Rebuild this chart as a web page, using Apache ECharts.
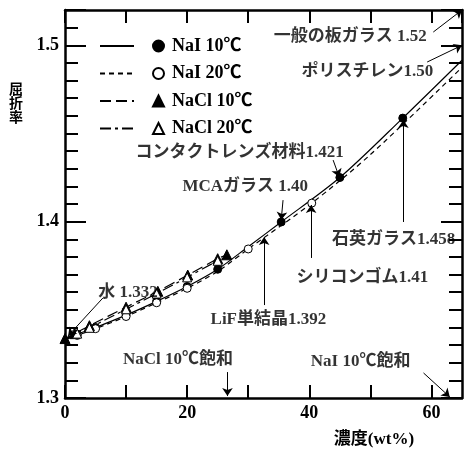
<!DOCTYPE html>
<html>
<head>
<meta charset="utf-8">
<script src="https://cdn.jsdelivr.net/npm/echarts@6.0.0/dist/echarts.min.js"></script>
<style>
  html, body { margin: 0; padding: 0; background: #fff; }
  #chart { width: 467px; height: 452px; }
</style>
</head>
<body>
<div id="chart"></div>
<script>
// 濃度(wt%) と屈折率
const naI10X = [0, 2, 5, 10, 15, 20, 25, 30, 35.4, 45, 55.3, 65]
const naI10Y = [1.3337, 1.3362, 1.3400, 1.3470, 1.3548, 1.3632, 1.3730, 1.3858, 1.3998, 1.4250, 1.4587, 1.4915]
const naI10Marks = [2, 5, 10, 15, 20, 25, 35.4, 45, 55.3]

const naI20X = [0, 2, 5, 10, 15, 20, 25, 30, 40.4, 50, 65]
const naI20Y = [1.3330, 1.3355, 1.3393, 1.3462, 1.3540, 1.3622, 1.3718, 1.3845, 1.4105, 1.4380, 1.4875]
const naI20Marks = [2, 5, 10, 15, 20, 30, 40.4]

const naCl10X = [0, 1.6, 4, 10, 15.2, 20.1, 25, 26.5]
const naCl10Y = [1.3337, 1.3365, 1.3410, 1.3515, 1.3605, 1.3697, 1.3790, 1.3812]
const naCl10Marks = [0, 1.6, 4, 10, 15.2, 20.1, 25, 26.5]

const naCl20X = [0, 2, 4, 10, 15, 20, 25, 26.4]
const naCl20Y = [1.3330, 1.3365, 1.3398, 1.3503, 1.3592, 1.3684, 1.3778, 1.3797]
const naCl20Marks = [2, 4, 10, 15, 20, 25]

const seriesNames = ['NaI 10℃', 'NaI 20℃', 'NaCl 10℃', 'NaCl 20℃']

// 注記 (文字と矢印)
const noteText = ['一般の板ガラス 1.52', 'ポリスチレン1.50', 'コンタクトレンズ材料1.421', 'MCAガラス 1.40',
  '石英ガラス1.458', 'シリコンゴム1.41', 'LiF単結晶1.392', '水 1.332', 'NaCl 10℃飽和', 'NaI 10℃飽和']
const noteX = [46.7, 49.5, 28.6, 29.5, 53.8, 48.7, 33.3, 10.3, 18.5, 48.4]
const noteY = [1.5047, 1.4848, 1.4389, 1.4196, 1.3896, 1.368, 1.3442, 1.3595, 1.3215, 1.3204]
const arrowFrom = [[60.3, 1.5075], [59.3, 1.4905], [43.9, 1.4349], [35.7, 1.4122], [55.4, 1.3998],
  [40.3, 1.3794], [32.6, 1.3527], [6.2, 1.3567], [26.6, 1.3147], [58.7, 1.3142]]
const arrowTo = [[65, 1.52], [65, 1.5], [44.9, 1.4253], [35.4, 1.4009], [55.4, 1.4576],
  [40.3, 1.4094], [32.6, 1.3913], [0.5, 1.3352], [26.6, 1.3011], [63, 1.3006]]

const FONT = '"Liberation Serif", "Noto Sans CJK JP", serif'
const BLACK = '#000'

const curve = (xs, ys) => xs.map((x, i) => [x, ys[i]])
const marks = (xs, ys, at) => at.map(x => [x, ys[xs.indexOf(x)]])

function lineSeries(name, data, type) {
  return {
    name: name + ' 線',
    type: 'line',
    data: data,
    smooth: 0.3,
    symbol: 'none',
    lineStyle: { color: BLACK, width: 1.2, type: type },
    itemStyle: { color: BLACK },
    z: 3
  }
}

function markSeries(name, data, symbol, size, fill) {
  return {
    name: name,
    type: 'scatter',
    data: data,
    symbol: symbol,
    symbolSize: size,
    itemStyle: { color: fill, borderColor: BLACK, borderWidth: 1, opacity: 1 },
    z: 4
  }
}

const axisLine = { show: true, lineStyle: { color: BLACK, width: 2.5 } }
const tickStyle = { color: BLACK, width: 2 }

const yLabel = v => (Math.round(v * 100) % 10 === 0 ? v.toFixed(1) : '')

const chart = echarts.init(document.getElementById('chart'))
chart.setOption({
  animation: false,
  backgroundColor: '#fff',
  grid: { left: 65, right: 5, top: 10, bottom: 54 },
  xAxis: [{
    type: 'value', min: 0, max: 65, interval: 10, position: 'bottom',
    axisLine: axisLine,
    axisTick: { inside: true, length: 13, lineStyle: tickStyle },
    axisLabel: {
      formatter: v => (v % 20 === 0 ? String(v) : ''), showMaxLabel: false,
      color: BLACK, fontFamily: FONT, fontWeight: 'bold', fontSize: 18, margin: 6
    },
    splitLine: { show: false }
  }, {
    type: 'value', min: 0, max: 65, interval: 10, position: 'top',
    axisLine: axisLine,
    axisTick: { inside: true, length: 13, lineStyle: tickStyle },
    axisLabel: { show: false },
    splitLine: { show: false }
  }],
  yAxis: [{
    type: 'value', min: 1.3, max: 1.52, interval: 0.01, position: 'left',
    axisLine: axisLine,
    axisTick: { inside: true, length: 13, lineStyle: tickStyle },
    axisLabel: { formatter: yLabel, color: BLACK, fontFamily: FONT, fontWeight: 'bold', fontSize: 18, margin: 6 },
    splitLine: { show: false }
  }, {
    type: 'value', min: 1.3, max: 1.52, interval: 0.1, position: 'left',
    axisLine: { show: false },
    axisTick: { inside: true, length: 21, lineStyle: tickStyle },
    axisLabel: { show: false },
    splitLine: { show: false }
  }, {
    type: 'value', min: 1.3, max: 1.52, interval: 0.01, position: 'right',
    axisLine: axisLine,
    axisTick: { inside: true, length: 13, lineStyle: tickStyle },
    axisLabel: { show: false },
    splitLine: { show: false }
  }, {
    type: 'value', min: 1.3, max: 1.52, interval: 0.1, position: 'right',
    axisLine: { show: false },
    axisTick: { inside: true, length: 21, lineStyle: tickStyle },
    axisLabel: { show: false },
    splitLine: { show: false }
  }],
  legend: [{
    data: seriesNames.map(n => n + ' 線'),
    orient: 'vertical', left: 94, top: 32,
    itemWidth: 34, itemHeight: 11, itemGap: 9.5,
    selectedMode: false,
    formatter: () => ' ',
    itemStyle: { color: 'rgba(0,0,0,0)', borderWidth: 0, opacity: 0 },
    textStyle: { fontSize: 18, lineHeight: 17 }
  }, {
    data: seriesNames,
    orient: 'vertical', left: 147, top: 32,
    itemWidth: 11, itemHeight: 11, itemGap: 9.5,
    selectedMode: false,
    textStyle: { color: BLACK, fontFamily: FONT, fontWeight: 'bold', fontSize: 18, lineHeight: 17, padding: [0, 0, 0, 3] }
  }],
  graphic: [{
    type: 'text', x: 16, y: 103,
    style: { text: '屈\n折\n率', fill: BLACK, font: 'bold 14px "Noto Sans CJK JP"', lineHeight: 14, align: 'center', verticalAlign: 'middle' }
  }, {
    type: 'text', x: 374, y: 440,
    style: { text: '濃度(wt%)', fill: BLACK, font: 'bold 17px "Liberation Serif", "Noto Sans CJK JP"', align: 'center', verticalAlign: 'middle' }
  }],
  series: [
    lineSeries(seriesNames[0], curve(naI10X, naI10Y), 'solid'),
    lineSeries(seriesNames[1], curve(naI20X, naI20Y), [5, 4]),
    lineSeries(seriesNames[2], curve(naCl10X, naCl10Y), [11, 5]),
    lineSeries(seriesNames[3], curve(naCl20X, naCl20Y), [11, 4, 3, 4]),
    markSeries(seriesNames[0], marks(naI10X, naI10Y, naI10Marks), 'circle', 8, BLACK),
    markSeries(seriesNames[1], marks(naI20X, naI20Y, naI20Marks), 'circle', 8, '#fff'),
    markSeries(seriesNames[2], marks(naCl10X, naCl10Y, naCl10Marks), 'triangle', 10, BLACK),
    markSeries(seriesNames[3], marks(naCl20X, naCl20Y, naCl20Marks), 'triangle', 9, '#fff'),
    {
      name: 'notes',
      type: 'scatter',
      data: noteText.map((t, i) => [noteX[i], noteY[i], t]),
      symbolSize: 0,
      silent: true,
      label: {
        show: true, position: 'inside', formatter: p => p.data[2],
        color: BLACK, fontFamily: FONT, fontWeight: 'bold', fontSize: 17
      },
      markLine: {
        silent: true,
        symbol: ['none', 'arrow'],
        symbolSize: 8,
        label: { show: false },
        lineStyle: { color: BLACK, type: 'solid', width: 1 },
        data: arrowFrom.map((f, i) => [{ coord: f }, { coord: arrowTo[i] }])
      },
      z: 5
    }
  ]
})
</script>
</body>
</html>
